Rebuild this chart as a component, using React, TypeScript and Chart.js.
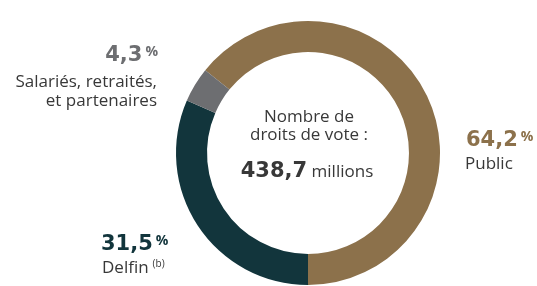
import React, { useEffect, useRef } from "react";
import { Chart, registerables } from "chart.js";

Chart.register(...registerables);

const categories = ["Public", "Delfin", "Salariés, retraités, et partenaires"];
const shares = [64.2, 31.5, 4.3];
const shareLabels = ["64,2", "31,5", "4,3"];
const colors = ["#8C714B", "#12353C", "#6D6E71"];
const totalLabel = "438,7";

const FONT = "'Open Sans', Lato, sans-serif";
const BOLD_FONT = "'DejaVu Sans', 'Open Sans', sans-serif";
const TEXT = "#383838";
const REG = 17;
const BIG = 21;

type LP = {
  x: number;
  baseline: number;
  size: number;
  align?: "left" | "right" | "center";
  children: React.ReactNode;
  color?: string;
  bold?: boolean;
};

function Line({ x, baseline, size, align = "left", children, color = TEXT, bold }: LP) {
  const k = bold ? 0.846 : 0.888;
  const style: React.CSSProperties = {
    position: "absolute",
    top: baseline - k * size,
    fontSize: size,
    lineHeight: `${size}px`,
    fontFamily: bold ? BOLD_FONT : FONT,
    fontWeight: bold ? 700 : 400,
    color,
    whiteSpace: "nowrap",
  };
  if (align === "left") style.left = x;
  else if (align === "right") style.right = 537 - x;
  else {
    style.left = x - 200;
    style.width = 400;
    style.textAlign = "center";
  }
  return <div style={style}>{children}</div>;
}

function Pct() {
  return (
    <span
      style={{
        fontSize: 14,
        lineHeight: 0,
        position: "relative",
        top: -5,
        marginLeft: 3,
        fontWeight: 700,
        fontFamily: FONT,
      }}
    >
      %
    </span>
  );
}

export default function App() {
  const ref = useRef<HTMLCanvasElement>(null);
  useEffect(() => {
    if (!ref.current) return;
    const chart = new Chart(ref.current, {
      type: "doughnut",
      data: {
        labels: categories,
        datasets: [
          {
            data: shares,
            backgroundColor: colors,
            borderWidth: 0,
            hoverOffset: 0,
          },
        ],
      },
      options: {
        responsive: false,
        animation: false,
        rotation: 180 - (shares[0] / 100) * 360,
        cutout: "76.5%",
        layout: { padding: { top: 21, bottom: 1, left: 176, right: 97 } },
        plugins: { legend: { display: false }, tooltip: { enabled: false } },
      },
    });
    return () => chart.destroy();
  }, []);

  return (
    <div style={{ position: "absolute", left: 0, top: 0, width: 537, height: 286, background: "#fff" }}>
      <canvas ref={ref} width={537} height={286} style={{ position: "absolute", left: 0, top: 0 }} />
      {/* Salariés */}
      <Line x={158} baseline={62} size={BIG} align="right" bold color={colors[2]}>
        {shareLabels[2]}
        <Pct />
      </Line>
      <Line x={157} baseline={87} size={REG} align="right">Salariés, retraités,</Line>
      <Line x={157} baseline={106} size={REG} align="right">et partenaires</Line>
      {/* Public */}
      <Line x={466} baseline={147} size={BIG} bold color={colors[0]}>
        {shareLabels[0]}
        <Pct />
      </Line>
      <Line x={465} baseline={169.5} size={REG}>{categories[0]}</Line>
      {/* Delfin */}
      <Line x={101} baseline={251} size={BIG} bold color={colors[1]}>
        {shareLabels[1]}
        <Pct />
      </Line>
      <Line x={102} baseline={273} size={REG}>
        {categories[1]}
        <span style={{ fontSize: 10, lineHeight: 0, position: "relative", top: -6, marginLeft: 4 }}>(b)</span>
      </Line>
      {/* Center */}
      <Line x={309} baseline={122} size={REG} align="center">Nombre de</Line>
      <Line x={309} baseline={140} size={REG} align="center">droits de vote :</Line>
      <Line x={307} baseline={177} size={REG} align="center">
        <span style={{ fontSize: BIG, lineHeight: 0, fontWeight: 700, fontFamily: BOLD_FONT }}>{totalLabel}</span> millions
      </Line>
    </div>
  );
}
